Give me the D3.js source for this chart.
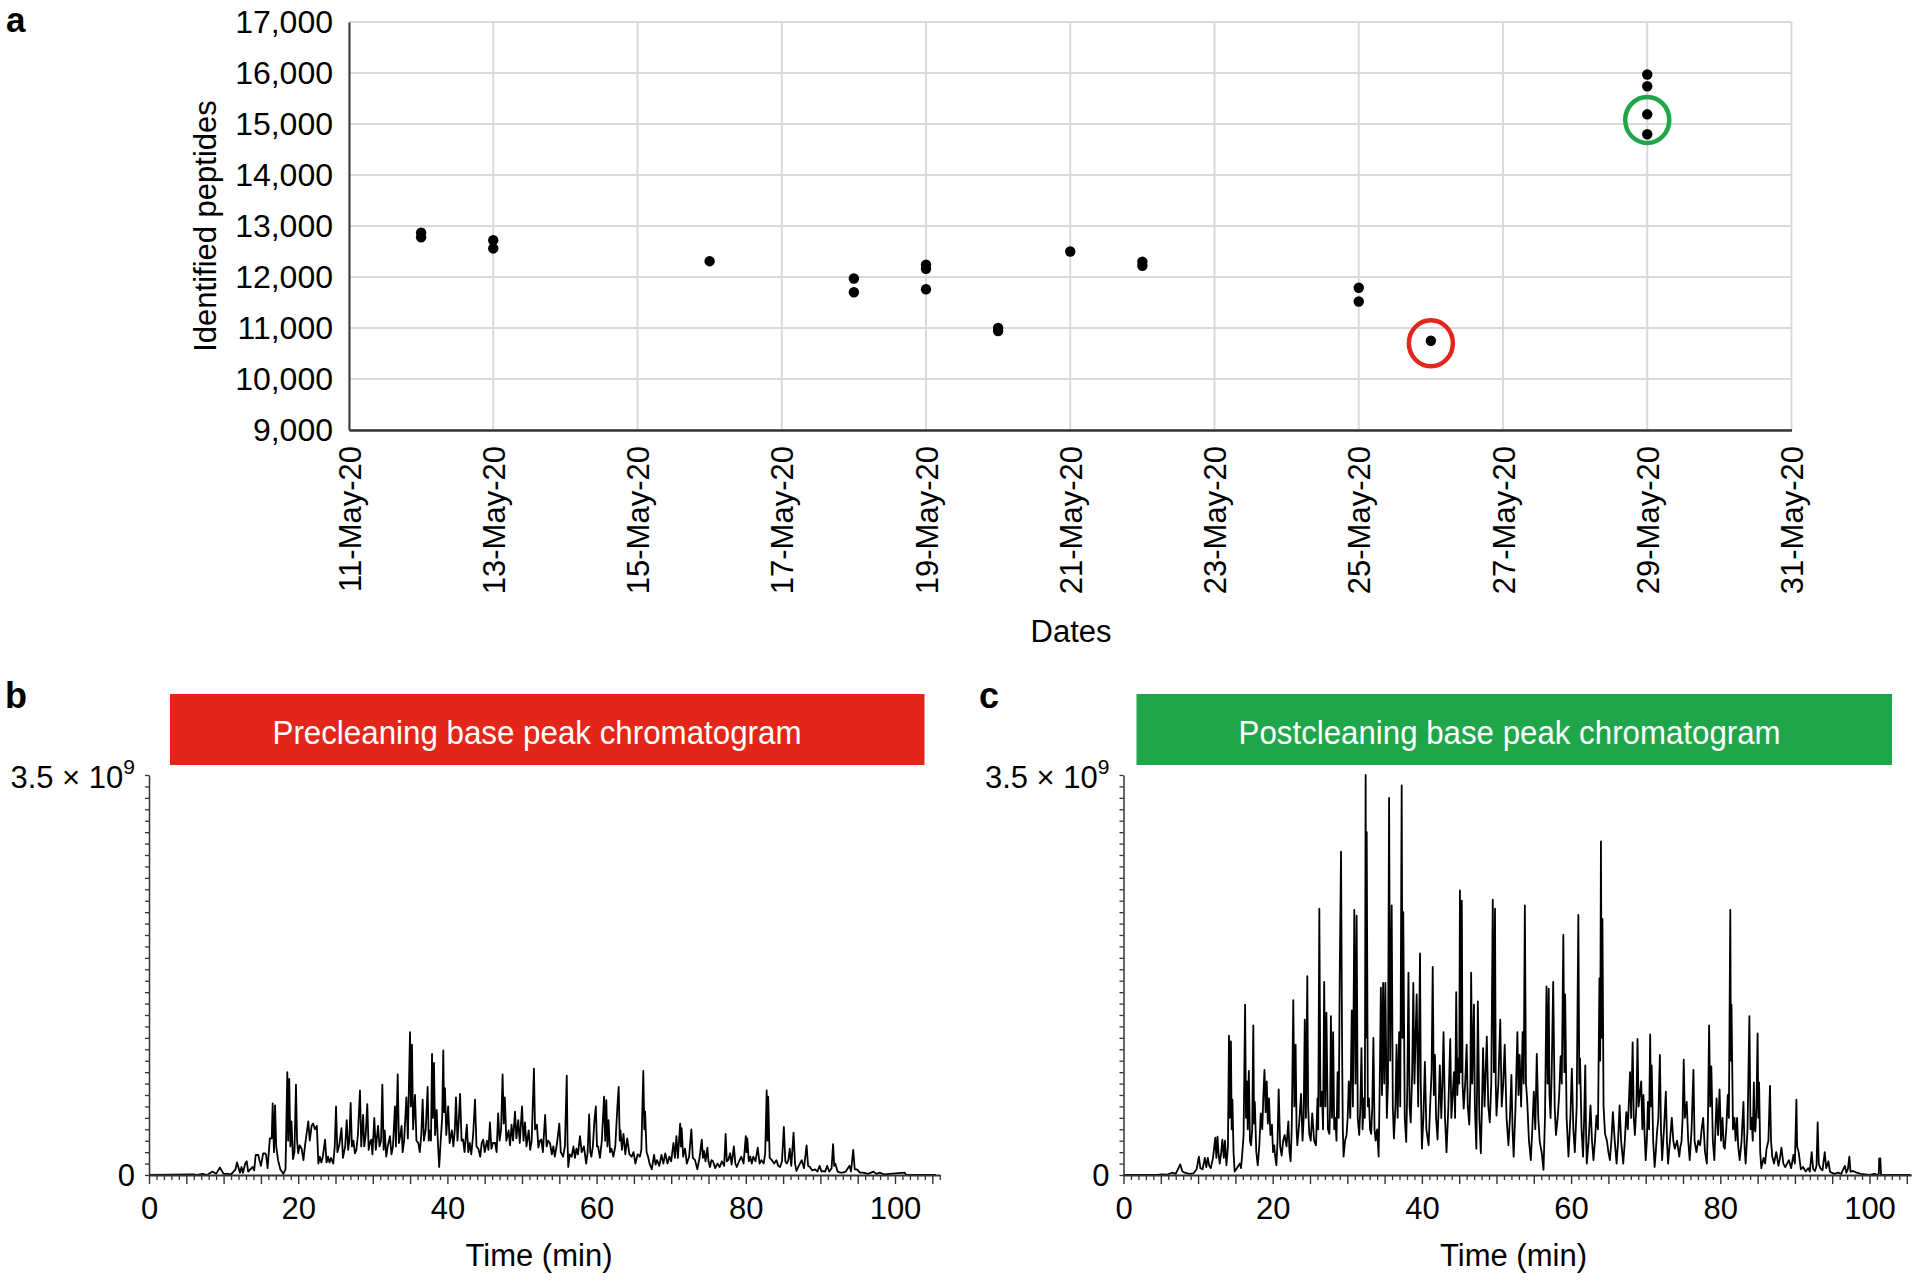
<!DOCTYPE html>
<html><head><meta charset="utf-8">
<script src="https://cdn.jsdelivr.net/npm/d3@7"></script>
<style>
html,body{margin:0;padding:0;background:#fff;}
svg{display:block;}
text{font-family:"Liberation Sans", Arial, Helvetica, sans-serif; fill:#000;}
</style></head><body>
<svg id="chart" width="1920" height="1281"></svg>
<script>
// ---------------- Panel a data ----------------
const runDates = ["2020-05-12","2020-05-12","2020-05-13","2020-05-13","2020-05-16","2020-05-18","2020-05-18",
  "2020-05-19","2020-05-19","2020-05-19","2020-05-20","2020-05-20","2020-05-21","2020-05-22","2020-05-22",
  "2020-05-25","2020-05-25","2020-05-26","2020-05-29","2020-05-29","2020-05-29","2020-05-29"];
const peptideCounts = [12870,12780,12720,12560,12310,11970,11700,12240,12160,11760,11000,10940,12500,12300,12220,
  11790,11520,10750,15970,15740,15190,14800];
const dateTicks = ["2020-05-11","2020-05-13","2020-05-15","2020-05-17","2020-05-19","2020-05-21","2020-05-23",
  "2020-05-25","2020-05-27","2020-05-29","2020-05-31"];
const peptideTicks = [9000,10000,11000,12000,13000,14000,15000,16000,17000];
const highlightDates = ["2020-05-26","2020-05-29"];
const highlightValues = [10700, 15080];

// ---------------- Panel b/c data (time in min, intensity in units of 1e8) ----------------
const timeTicks = [0,20,40,60,80,100];
const intensityMax = 3.5e9;
const preCleaning = [[0,0],[5.9,0.05],[6.5,0],[7.2,0.1],[7.8,0],[8.5,0.3],[9.0,0.1],[9.5,0.66],[10.0,0.1],[10.5,0.1],[11.0,0.05],
[11.6,0.5],[11.8,1.1],[12.2,0.2],[12.4,0.7],[12.6,0.2],[12.9,1.0],[13.1,1.2],[13.3,0.3],[13.9,0.7],[14.1,0.4],[14.3,1.75],
[14.65,1.75],[14.8,1.3],[15.0,0.8],[15.3,1.9],[15.55,1.9],[15.7,1.75],[15.9,0.6],[16.2,3.2],[16.45,3.2],[16.58,6.27],[16.75,2.0],
[16.9,6.1],[17.05,2.5],[17.3,1.3],[17.6,0.5],[18.0,0.1],[18.3,0.5],[18.54,9.0],[18.65,3.0],[18.8,8.4],[18.95,2.5],[19.1,4.7],
[19.3,1.4],[19.5,2.0],[19.7,7.9],[19.85,3.0],[20.0,1.9],[20.2,2.6],[20.46,2.3],[20.7,1.3],[20.9,2.5],[21.1,3.5],[21.35,4.7],
[21.55,3.0],[21.8,4.3],[22.0,4.5],[22.25,4.0],[22.5,4.3],[22.7,1.0],[22.9,1.6],[23.1,1.1],[23.3,1.6],[23.6,3.1],[23.8,1.1],
[24.0,1.6],[24.2,1.1],[24.4,1.5],[24.7,1.0],[24.9,2.5],[25.07,6.0],[25.25,2.0],[25.5,2.6],[25.8,4.1],[26.0,1.5],[26.3,2.5],
[26.5,4.8],[26.7,2.2],[26.85,3.0],[27.03,6.3],[27.2,2.5],[27.4,3.0],[27.6,1.9],[27.8,2.2],[28.0,3.5],[28.28,7.4],[28.45,2.5],
[28.7,5.25],[28.85,2.5],[29.05,3.5],[29.26,6.2],[29.45,2.2],[29.6,2.8],[29.8,3.1],[29.95,1.8],[30.2,5.0],[30.4,2.2],[30.7,4.3],
[30.9,2.5],[31.1,3.0],[31.28,7.9],[31.45,2.2],[31.6,3.9],[31.8,1.6],[32.0,2.5],[32.3,3.4],[32.5,1.8],[32.7,2.5],[32.97,6.0],
[33.1,2.5],[33.34,8.8],[33.5,2.8],[33.7,3.5],[33.86,4.3],[34.0,2.0],[34.2,3.0],[34.5,6.8],[34.7,3.2],[34.99,12.5],[35.1,6.0],
[35.25,11.4],[35.4,4.0],[35.66,7.0],[35.85,3.0],[36.1,2.8],[36.3,2.0],[36.5,3.5],[36.68,6.6],[36.85,3.0],[37.1,4.0],[37.35,7.7],
[37.5,3.0],[37.66,3.9],[37.8,3.0],[37.94,10.6],[38.05,5.0],[38.2,9.8],[38.35,3.5],[38.56,5.7],[38.75,2.5],[38.9,0.7],[39.1,3.0],
[39.3,5.0],[39.45,10.9],[39.55,5.5],[39.67,7.6],[39.85,3.5],[40.1,6.0],[40.3,2.8],[40.6,3.9],[40.8,2.5],[41.0,4.0],[41.15,6.8],
[41.35,3.0],[41.5,4.5],[41.7,7.1],[41.9,3.0],[42.1,3.1],[42.3,2.0],[42.6,4.4],[42.8,2.0],[43.0,2.8],[43.2,1.8],[43.45,3.5],
[43.7,6.6],[43.9,2.5],[44.15,2.3],[44.4,1.6],[44.6,2.8],[44.8,3.1],[45.0,2.0],[45.3,3.0],[45.5,2.2],[45.7,4.6],[45.9,2.3],
[46.1,2.8],[46.4,2.8],[46.6,2.0],[46.8,5.4],[47.0,3.0],[47.2,4.0],[47.4,8.8],[47.55,4.5],[47.7,6.8],[47.9,3.0],[48.2,3.9],
[48.4,2.6],[48.6,4.4],[48.8,3.0],[49.06,5.55],[49.25,3.2],[49.5,4.8],[49.7,2.8],[50.0,6.0],[50.2,3.0],[50.4,4.6],[50.6,2.5],
[50.9,3.9],[51.1,2.2],[51.3,3.0],[51.6,9.3],[51.75,4.0],[52.0,4.4],[52.2,2.4],[52.4,3.0],[52.6,3.1],[52.8,2.0],[53.1,5.25],
[53.3,2.5],[53.5,3.0],[53.75,2.8],[54.0,1.8],[54.2,2.5],[54.4,1.6],[54.7,2.8],[55.0,4.5],[55.2,2.0],[55.5,1.6],[55.75,2.5],
[56.0,8.7],[56.1,3.0],[56.2,0.7],[56.4,1.8],[56.66,1.6],[56.9,2.5],[57.1,1.5],[57.3,2.3],[57.5,1.8],[57.77,3.4],[58.0,2.0],
[58.3,2.5],[58.6,1.0],[58.8,2.0],[59.0,5.3],[59.15,2.0],[59.3,1.6],[59.5,2.5],[59.7,4.7],[59.9,6.0],[60.05,2.5],[60.2,2.5],
[60.45,1.5],[60.7,3.0],[61.0,6.85],[61.15,3.0],[61.3,6.56],[61.45,2.5],[61.6,4.8],[61.8,2.0],[62.0,2.3],[62.25,1.6],[62.5,2.5],
[62.8,6.1],[62.96,7.7],[63.1,3.0],[63.2,3.9],[63.4,2.2],[63.6,3.6],[63.85,1.8],[64.1,3.2],[64.4,1.8],[64.7,1.6],[64.95,2.0],
[65.2,1.0],[65.5,1.8],[65.8,1.6],[66.0,2.2],[66.26,9.1],[66.4,4.0],[66.5,5.55],[66.7,2.0],[66.9,1.6],[67.1,1.0],[67.4,0.5],
[67.7,1.75],[67.9,0.9],[68.1,1.3],[68.4,0.8],[68.7,1.75],[68.95,1.0],[69.2,1.9],[69.5,1.0],[69.75,1.6],[70.0,1.2],[70.3,2.8],
[70.5,1.5],[70.7,3.4],[70.9,1.5],[71.2,4.5],[71.3,2.5],[71.4,4.1],[71.6,1.6],[71.85,2.3],[72.1,1.0],[72.4,1.6],[72.7,4.0],
[72.9,1.5],[73.2,1.3],[73.5,0.5],[73.8,1.5],[74.1,3.1],[74.25,1.5],[74.4,2.1],[74.6,1.2],[74.85,2.4],[75.0,1.2],[75.2,0.7],
[75.4,1.3],[75.6,1.2],[75.9,0.6],[76.2,1.0],[76.5,0.7],[76.8,1.2],[77.1,0.8],[77.3,3.6],[77.45,1.2],[77.65,1.3],[77.9,1.9],
[78.1,0.9],[78.4,2.5],[78.6,1.0],[78.8,0.7],[79.1,1.2],[79.4,1.6],[79.7,1.0],[80.0,3.4],[80.1,2.0],[80.2,3.2],[80.4,1.2],
[80.6,1.6],[80.8,1.0],[81.0,1.6],[81.3,1.2],[81.6,2.4],[81.85,1.0],[82.1,1.3],[82.4,1.0],[82.6,1.9],[82.8,7.4],[82.9,3.0],
[83.0,6.85],[83.2,1.5],[83.5,1.3],[83.8,1.0],[84.1,1.3],[84.35,0.8],[84.6,0.7],[84.85,1.2],[85.1,4.2],[85.3,1.2],[85.5,1.0],
[85.7,1.3],[85.9,2.3],[86.1,0.8],[86.4,3.7],[86.6,1.0],[86.8,0.35],[87.1,0.8],[87.5,1.3],[87.8,0.6],[88.15,2.6],[88.35,0.8],
[88.6,0.7],[88.9,0.4],[89.3,0.5],[89.6,0.3],[89.9,0.8],[90.15,0.3],[90.4,0.35],[90.65,0.3],[90.9,0.8],[91.2,0.3],[91.5,0.6],
[91.7,2.7],[91.85,0.8],[92.0,1.0],[92.3,0.3],[92.7,0.2],[93.0,0.2],[93.4,0.3],[93.9,0.8],[94.1,0.3],[94.4,2.2],[94.6,0.5],
[94.9,0.5],[95.3,0.2],[95.7,0.2],[96.4,0.1],[97.1,0.3],[97.5,0.1],[98.0,0.2],[98.5,0.05],[101.3,0.2],[101.5,0],[105.5,0]];

const postCleaning = [[0,0],[4.5,0],[5.1,0.06],[5.8,0.02],[6.5,0.2],[7.0,0.1],[7.6,0.93],[7.9,0.3],[8.2,0.2],[8.8,0.1],[9.4,0.15],
[9.8,0.5],[10.1,1.6],[10.3,0.6],[10.6,0.5],[10.9,1.5],[11.1,0.7],[11.3,1.5],[11.5,0.8],[11.7,0.6],[12.0,1.5],[12.3,3.27],
[12.45,1.5],[12.6,3.35],[12.75,1.8],[12.9,1.0],[13.1,2.0],[13.25,3.1],[13.45,1.5],[13.6,3.0],[13.8,0.85],[14.0,2.5],[14.14,12.2],
[14.25,5.0],[14.4,11.7],[14.5,4.0],[14.6,6.6],[14.75,2.0],[14.9,0.3],[15.2,0.6],[15.4,0.8],[15.6,1.0],[15.75,0.6],[15.9,1.7],
[16.1,3.5],[16.3,14.9],[16.42,5.0],[16.55,8.2],[16.65,4.0],[16.8,9.1],[16.95,3.0],[17.1,2.6],[17.25,4.0],[17.4,13.1],[17.5,4.5],
[17.6,6.4],[17.8,2.0],[18.0,0.85],[18.2,2.5],[18.4,5.4],[18.6,4.0],[18.75,7.0],[18.9,9.2],[19.05,5.5],[19.2,8.2],[19.35,4.5],
[19.5,6.7],[19.7,3.5],[19.9,4.4],[20.05,2.0],[20.2,2.6],[20.35,1.5],[20.5,0.85],[20.65,3.0],[20.8,7.5],[21.0,2.5],[21.2,1.7],
[21.4,3.0],[21.6,3.5],[21.85,2.5],[22.1,4.7],[22.25,2.0],[22.4,1.2],[22.55,4.0],[22.76,15.3],[22.9,6.0],[23.07,11.4],[23.2,4.0],
[23.3,2.6],[23.55,4.5],[23.8,7.1],[24.0,3.0],[24.15,5.0],[24.3,13.6],[24.45,5.0],[24.64,17.4],[24.75,6.0],[24.9,3.6],[25.1,3.0],
[25.3,5.4],[25.55,3.0],[25.8,2.6],[26.0,6.7],[26.1,4.0],[26.25,23.3],[26.4,6.0],[26.6,7.3],[26.75,4.0],[26.9,16.9],[27.05,6.0],
[27.2,14.2],[27.4,4.0],[27.6,3.6],[27.7,6.0],[27.8,13.9],[27.95,5.0],[28.1,12.5],[28.25,4.0],[28.4,5.0],[28.55,3.0],[28.7,9.0],
[28.85,5.0],[29.0,18.5],[29.16,28.3],[29.3,11.1],[29.4,4.0],[29.5,1.6],[29.7,3.0],[29.9,3.5],[30.05,5.0],[30.2,8.2],[30.4,5.0],
[30.6,14.4],[30.75,6.0],[30.94,23.2],[31.1,8.0],[31.25,22.7],[31.4,5.0],[31.6,3.5],[31.75,6.0],[31.9,11.1],[32.05,4.0],[32.2,6.7],
[32.35,5.0],[32.46,35.0],[32.53,12.0],[32.6,30.0],[32.75,6.0],[32.9,6.7],[33.05,4.0],[33.2,3.6],[33.35,6.0],[33.5,12.0],
[33.65,4.0],[33.8,3.0],[34.0,4.0],[34.2,1.6],[34.35,8.0],[34.5,16.4],[34.65,7.0],[34.8,16.8],[34.95,8.0],[35.1,16.8],[35.3,5.0],
[35.45,8.0],[35.6,33.0],[35.75,10.0],[35.95,23.6],[36.1,6.0],[36.25,3.2],[36.45,6.0],[36.6,11.4],[36.75,5.0],[36.95,12.5],
[37.1,6.0],[37.29,34.1],[37.4,12.0],[37.5,23.0],[37.7,5.0],[37.9,2.9],[38.05,8.0],[38.2,17.7],[38.35,6.0],[38.5,4.6],[38.7,9.0],
[38.85,16.8],[39.0,8.0],[39.15,12.0],[39.3,15.8],[39.5,6.0],[39.75,19.4],[39.85,8.0],[40.0,2.3],[40.2,5.0],[40.4,9.9],[40.6,4.0],
[40.9,2.6],[41.1,6.0],[41.3,9.0],[41.45,18.2],[41.6,7.0],[41.75,10.5],[41.9,5.0],[42.1,3.1],[42.25,6.0],[42.4,9.6],[42.6,5.0],
[42.75,8.0],[42.9,12.5],[43.1,5.0],[43.3,2.0],[43.55,6.0],[43.8,11.9],[43.95,5.0],[44.1,6.7],[44.3,9.0],[44.45,5.0],[44.6,16.0],
[44.75,7.0],[44.9,10.2],[45.0,8.0],[45.1,24.9],[45.2,9.0],[45.35,24.0],[45.45,8.0],[45.6,5.8],[45.8,8.0],[46.0,11.4],[46.15,6.0],
[46.35,4.4],[46.5,8.0],[46.6,17.7],[46.75,8.0],[46.98,14.9],[47.1,6.0],[47.3,2.3],[47.4,8.0],[47.5,15.2],[47.7,5.0],[47.9,1.9],
[48.05,6.0],[48.2,11.1],[48.4,6.0],[48.55,9.0],[48.7,12.1],[48.9,6.0],[49.1,4.6],[49.3,8.0],[49.5,24.1],[49.65,9.0],[49.8,23.3],
[49.9,8.0],[50.0,5.2],[50.25,8.0],[50.5,13.6],[50.7,6.0],[50.9,8.0],[51.1,11.4],[51.35,5.0],[51.6,2.6],[51.8,5.0],[52.0,8.75],
[52.15,4.0],[52.3,1.6],[52.55,6.0],[52.8,12.5],[52.95,7.0],[53.1,10.5],[53.3,6.0],[53.5,12.5],[53.65,8.0],[53.8,23.6],[53.95,8.0],
[54.1,6.7],[54.35,3.0],[54.6,1.3],[54.8,4.0],[55.0,7.3],[55.2,4.0],[55.4,10.6],[55.6,5.0],[55.8,2.9],[56.05,2.0],[56.3,0.44],
[56.5,5.0],[56.7,16.5],[56.85,8.0],[57.0,16.3],[57.1,7.0],[57.25,5.0],[57.4,9.0],[57.6,16.9],[57.8,6.0],[57.97,3.5],[58.2,5.0],
[58.4,7.0],[58.6,10.4],[58.75,8.0],[58.96,21.0],[59.1,9.0],[59.2,15.8],[59.4,5.0],[59.65,1.6],[59.9,5.0],[60.1,9.3],[60.3,4.0],
[60.5,2.0],[60.75,6.0],[60.97,22.75],[61.1,8.0],[61.2,10.2],[61.4,4.0],[61.6,1.6],[61.75,5.0],[61.9,9.6],[62.0,4.0],[62.1,1.0],
[62.35,3.0],[62.6,6.1],[62.8,3.0],[63.0,1.3],[63.2,3.0],[63.4,5.2],[63.6,4.0],[63.8,17.2],[63.9,10.0],[64.0,29.2],[64.1,12.0],
[64.2,22.4],[64.35,6.0],[64.55,3.6],[64.8,3.0],[65.0,2.0],[65.2,1.3],[65.4,3.0],[65.6,5.5],[65.85,3.0],[66.1,1.0],[66.3,3.0],
[66.5,6.1],[66.7,3.0],[66.99,1.0],[67.2,3.0],[67.4,5.5],[67.6,4.0],[67.9,9.0],[68.05,5.0],[68.25,11.6],[68.4,5.0],[68.55,3.5],
[68.75,6.0],[68.9,11.9],[69.05,6.0],[69.2,7.0],[69.4,8.2],[69.55,4.0],[69.7,7.0],[69.85,3.6],[70.0,1.3],[70.15,3.0],[70.3,6.4],
[70.45,4.0],[70.6,12.3],[70.7,6.0],[70.8,9.6],[71.0,3.0],[71.2,0.7],[71.35,2.0],[71.5,3.6],[71.7,5.0],[71.9,10.5],[72.05,4.0],
[72.2,1.3],[72.45,4.0],[72.7,7.3],[72.85,3.0],[73.0,1.0],[73.25,3.0],[73.5,5.0],[73.7,3.0],[73.9,2.3],[74.2,3.0],[74.5,1.6],
[74.65,2.5],[74.8,2.9],[74.95,5.0],[75.1,10.1],[75.25,5.0],[75.5,6.4],[75.7,3.0],[75.9,1.3],[76.15,4.0],[76.4,9.2],[76.55,3.0],
[76.8,2.0],[77.05,3.0],[77.3,2.6],[77.5,4.0],[77.7,5.0],[77.95,2.0],[78.2,1.0],[78.35,5.0],[78.5,13.1],[78.65,6.0],[78.8,9.5],
[79.0,3.0],[79.2,1.3],[79.35,4.0],[79.5,6.7],[79.7,3.5],[79.9,7.5],[80.1,3.0],[80.3,5.0],[80.45,2.5],[80.6,2.3],[80.8,4.0],
[81.0,7.0],[81.15,5.0],[81.34,23.2],[81.42,10.0],[81.5,14.9],[81.7,4.0],[81.9,5.0],[82.05,3.0],[82.25,5.0],[82.4,2.5],[82.6,1.3],
[82.85,3.0],[83.1,6.4],[83.25,2.5],[83.4,1.0],[83.65,4.0],[83.9,13.9],[84.05,4.0],[84.2,5.0],[84.35,3.0],[84.5,8.1],[84.6,4.0],
[84.7,3.8],[84.85,6.0],[85.0,12.4],[85.1,5.0],[85.2,8.1],[85.35,2.0],[85.5,0.6],[85.8,1.5],[86.0,1.0],[86.2,2.3],[86.45,3.0],
[86.66,7.8],[86.8,3.0],[86.97,1.6],[87.2,1.0],[87.5,2.0],[87.8,0.8],[88.0,1.5],[88.2,2.4],[88.45,1.0],[88.7,0.7],[88.95,1.0],
[89.2,1.3],[89.5,0.6],[89.8,1.75],[90.0,1.0],[90.2,6.6],[90.3,2.5],[90.5,2.0],[90.8,0.5],[91.1,0.7],[91.45,0.3],[91.8,0.6],
[92.0,0.3],[92.25,2.0],[92.45,0.5],[92.7,0.35],[92.9,0.8],[93.05,4.6],[93.2,1.0],[93.4,0.6],[93.7,0.4],[94.0,2.0],[94.2,0.6],
[94.5,1.2],[94.7,0.3],[94.9,0.2],[95.3,0.1],[95.8,0.2],[96.2,0.1],[96.7,0.8],[96.9,0.2],[97.1,0.5],[97.3,1.6],[97.45,0.3],
[97.8,0.35],[98.3,0.2],[98.8,0.1],[99.4,0.05],[100.0,0],[100.7,0.1],[101.0,0],[101.25,0.1],[101.3,1.45],[101.45,1.45],[101.55,0],[105.5,0]];

// ---------------- Drawing ----------------
const svg = d3.select("#chart");
const parse = d3.utcParse("%Y-%m-%d");
const FONT = '"Liberation Sans", Arial, Helvetica, sans-serif';

// ===== Panel a =====
const xA = d3.scaleUtc().domain([parse("2020-05-11"), parse("2020-05-31")]).range([349, 1791.5]);
const yA = d3.scaleLinear().domain([9000, 17000]).range([430, 22]);
const gA = svg.append("g");

// grid
gA.append("g").selectAll("line").data(peptideTicks).join("line")
  .attr("x1", xA.range()[0]).attr("x2", xA.range()[1])
  .attr("y1", d => yA(d)).attr("y2", d => yA(d))
  .attr("stroke", "#d9d9d9").attr("stroke-width", 2);
gA.append("g").selectAll("line").data(dateTicks.map(parse)).join("line")
  .attr("x1", d => xA(d)).attr("x2", d => xA(d))
  .attr("y1", yA.range()[0]).attr("y2", yA.range()[1])
  .attr("stroke", "#d9d9d9").attr("stroke-width", 2);

// y axis
const yAxisA = gA.append("g").attr("transform", `translate(${xA.range()[0]},0)`)
  .call(d3.axisLeft(yA).tickValues(peptideTicks).tickFormat(d3.format(",")).tickSize(0).tickSizeOuter(0).tickPadding(16));
yAxisA.select(".domain").attr("stroke", "#3a3a3a").attr("stroke-width", 2);
yAxisA.selectAll("text").style("font-family", FONT).style("font-size", "32px").attr("fill", "#000");

// x axis
const xAxisA = gA.append("g").attr("transform", `translate(0,${yA.range()[0]})`)
  .call(d3.axisBottom(xA).tickValues(dateTicks.map(parse)).tickFormat(d3.utcFormat("%d-%b-%y")).tickSize(0).tickSizeOuter(0));
xAxisA.select(".domain").attr("stroke", "#333").attr("stroke-width", 2.5);
xAxisA.selectAll("text").style("font-family", FONT).style("font-size", "31px").attr("fill", "#000")
  .attr("transform", "rotate(-90)").attr("x", -16).attr("y", 0).attr("dy", "0.36em").style("text-anchor", "end");

// titles
gA.append("text").attr("x", 1071).attr("y", 642).attr("text-anchor", "middle")
  .style("font-size", "31px").text("Dates");
gA.append("text").attr("transform", `translate(216,${(yA.range()[0] + yA.range()[1]) / 2}) rotate(-90)`)
  .attr("text-anchor", "middle").style("font-size", "31px").text("Identified peptides");

// points
gA.append("g").selectAll("circle").data(runDates.map((d, i) => [parse(d), peptideCounts[i]])).join("circle")
  .attr("cx", d => xA(d[0])).attr("cy", d => yA(d[1])).attr("r", 5.2).attr("fill", "#000");

// highlight rings
const ringColors = ["#e3261b", "#1fa64a"];
gA.append("g").selectAll("ellipse").data(highlightDates.map((d, i) => [parse(d), highlightValues[i]])).join("ellipse")
  .attr("cx", d => xA(d[0])).attr("cy", d => yA(d[1])).attr("rx", 22).attr("ry", 23)
  .attr("fill", "none").attr("stroke", (d, i) => ringColors[i]).attr("stroke-width", 4.5);

// panel label
svg.append("text").attr("x", 6).attr("y", 32).style("font-size", "35px").style("font-weight", "bold").text("a");

// ===== Panels b, c =====
function chromPanel(opts) {
  const g = svg.append("g");
  const x = d3.scaleLinear().domain([0, opts.xMax]).range([opts.x0, opts.x0 + opts.xMax * 7.46]);
  const y = d3.scaleLinear().domain([0, intensityMax]).range([1175, 775]);

  // banner
  g.append("rect").attr("x", opts.bx0).attr("y", 694).attr("width", opts.bx1 - opts.bx0).attr("height", 71)
    .attr("fill", opts.color);
  g.append("text").attr("x", opts.tx).attr("y", 744).attr("text-anchor", "middle")
    .attr("textLength", opts.tLen).attr("lengthAdjust", "spacingAndGlyphs")
    .style("font-size", "34px").attr("fill", "#fff").style("fill", "#fff").text(opts.title);

  // trace
  const line = d3.line().x(d => x(d[0])).y(d => y(d[1] * 1e8));
  g.append("path").datum(opts.data).attr("d", line)
    .attr("fill", "none").attr("stroke", "#000").attr("stroke-width", 1.8).attr("stroke-linejoin", "round");

  // y axis: ticks every 1e8
  const yTickVals = d3.range(0, 36).map(k => k * 1e8);
  const ya = g.append("g").attr("transform", `translate(${opts.x0},0)`)
    .call(d3.axisLeft(y).tickValues(yTickVals).tickFormat("").tickSize(4).tickSizeOuter(0));
  ya.select(".domain").attr("stroke", "#333").attr("stroke-width", 1.5);
  ya.selectAll(".tick line").attr("stroke", "#333").attr("stroke-width", 1.3);

  // x axis: minor ticks each minute, longer each 5 min
  const minorVals = d3.range(0, Math.floor(opts.xMax) + 1).filter(v => v % 5 !== 0);
  const majorVals = d3.range(0, Math.floor(opts.xMax) + 1).filter(v => v % 5 === 0);
  const xa1 = g.append("g").attr("transform", `translate(0,${y(0)})`)
    .call(d3.axisBottom(x).tickValues(minorVals).tickFormat("").tickSize(5).tickSizeOuter(0));
  xa1.select(".domain").attr("stroke", "#333").attr("stroke-width", 1.8);
  xa1.selectAll(".tick line").attr("stroke", "#333").attr("stroke-width", 1.3);
  const xa2 = g.append("g").attr("transform", `translate(0,${y(0)})`)
    .call(d3.axisBottom(x).tickValues(majorVals).tickFormat("").tickSize(9).tickSizeOuter(0));
  xa2.select(".domain").remove();
  xa2.selectAll(".tick line").attr("stroke", "#333").attr("stroke-width", 1.4);
  const xa3 = g.append("g").attr("transform", `translate(0,${y(0)})`)
    .call(d3.axisBottom(x).tickValues(timeTicks).tickSize(0).tickPadding(22));
  xa3.select(".domain").remove();
  xa3.selectAll("text").style("font-family", FONT).style("font-size", "31px").attr("fill", "#000");

  // y labels
  g.append("text").attr("x", opts.x0 - 14).attr("y", y(0)).attr("dy", "0.36em").attr("text-anchor", "end")
    .style("font-size", "31px").text("0");
  const top = g.append("text").attr("x", opts.x0 - 14).attr("y", y(intensityMax) + 13).attr("text-anchor", "end")
    .style("font-size", "31px");
  top.append("tspan").text("3.5 \u00d7 10");
  top.append("tspan").attr("dy", -14).style("font-size", "21px").text("9");

  // axis title
  g.append("text").attr("x", opts.x0 + 390).attr("y", 1266).attr("text-anchor", "middle")
    .style("font-size", "31px").text("Time (min)");

  // panel label
  svg.append("text").attr("x", opts.lx).attr("y", 708).style("font-size", "36px").style("font-weight", "bold").text(opts.label);
}

chromPanel({x0: 149, xMax: 106, bx0: 170, bx1: 924.5, tx: 537, tLen: 529, color: "#e3261a",
  title: "Precleaning base peak chromatogram", data: preCleaning, label: "b", lx: 5});
chromPanel({x0: 1123.5, xMax: 105.6, bx0: 1136.5, bx1: 1892, tx: 1509.6, tLen: 542, color: "#1fa64a",
  title: "Postcleaning base peak chromatogram", data: postCleaning, label: "c", lx: 979});
</script>
</body></html>
